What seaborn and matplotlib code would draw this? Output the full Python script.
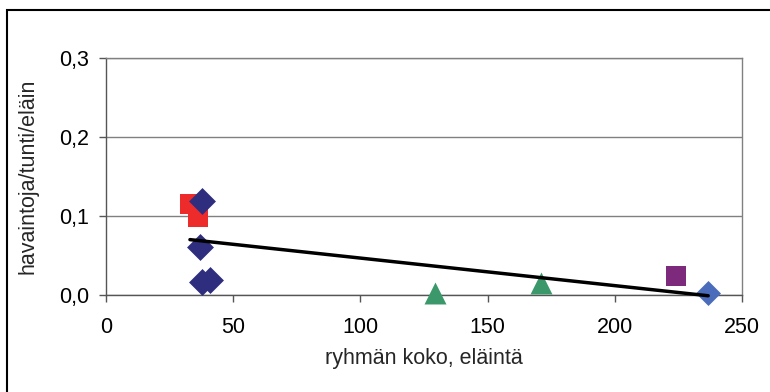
import numpy as np
import pandas as pd
import matplotlib
matplotlib.use("Agg")
import matplotlib.pyplot as plt
import matplotlib.patches as patches
import seaborn as sns

# data
red_x = [33.0, 36.0]
red_y = [0.115, 0.099]
navy_x = [37.8, 37.1, 37.8, 40.8]
navy_y = [0.119, 0.061, 0.016, 0.019]
green_x = [129.5, 171.0]
green_y = [0.003, 0.015]
purple_x = [224.0]
purple_y = [0.024]
blue_x = [236.7]
blue_y = [0.002]

x_ticks = [0, 50, 100, 150, 200, 250]
y_ticks = [0.0, 0.1, 0.2, 0.3]

groups = [
    ("a", red_x, red_y, "s", "#EE2B2B", 228),
    ("b", navy_x, navy_y, "D", "#2F2E7E", 188),
    ("c", green_x, green_y, "^", "#3A986A", 250),
    ("d", purple_x, purple_y, "s", "#7D2A7D", 188),
    ("e", blue_x, blue_y, "D", "#4A6CBA", 162),
]

rows = []
for name, xs, ys, m, c, s in groups:
    for xv, yv in zip(xs, ys):
        rows.append({"group": name, "koko": xv, "havainnot": yv})
df = pd.DataFrame(rows)

sns.set_theme(style="white")
plt.rcParams["font.family"] = ["Liberation Sans", "DejaVu Sans"]

fig = plt.figure(figsize=(7.7, 3.92), dpi=100)
ax = fig.add_axes([106 / 770, 1 - 295 / 392, (742 - 106) / 770, (295 - 58) / 392])

for name, xs, ys, m, c, s in groups:
    sub = df[df["group"] == name]
    sns.scatterplot(data=sub, x="koko", y="havainnot", marker=m, color=c,
                    s=s, linewidth=0, ax=ax, zorder=3, legend=False,
                    clip_on=False)

# linear trendline over all points
k, b = np.polyfit(df["koko"], df["havainnot"], 1)
xl = np.array([df["koko"].min(), df["koko"].max()])
ax.plot(xl, k * xl + b, color="black", linewidth=2.5, zorder=4, clip_on=False)

ax.set_xlim(0, 250)
ax.set_ylim(0, 0.3)
ax.set_xticks(x_ticks)
ax.set_yticks(y_ticks)
ax.set_xticklabels([str(v) for v in x_ticks])
ax.set_yticklabels([f"{v:.1f}".replace(".", ",") for v in y_ticks])
ax.yaxis.grid(True, color="#808080", linewidth=1)
ax.set_axisbelow(True)
for side in ["top", "right", "left", "bottom"]:
    ax.spines[side].set_visible(True)
    ax.spines[side].set_color("#808080")
    ax.spines[side].set_linewidth(1)
ax.spines["left"].set_color("#555555")
ax.spines["bottom"].set_color("#555555")
ax.tick_params(axis="both", which="major", direction="out", length=5, width=1,
               color="#555555", labelsize=15.5, bottom=True, left=True,
               labelcolor="black")
ax.tick_params(axis="x", pad=11)
ax.tick_params(axis="y", pad=7)
ax.set_xlabel("ryhmän koko, eläintä", fontsize=15.5, labelpad=7)
ax.set_ylabel("havaintoja/tunti/eläin", fontsize=15.5, labelpad=15)

# outer chart border (only left and top visible)
fig.patches.append(patches.Rectangle((7 / 770, -0.1), 1.2, 1 - 10 / 392 + 0.1,
                                     transform=fig.transFigure, fill=False,
                                     edgecolor="black", linewidth=1.5))

fig.savefig("out.png", dpi=100)
